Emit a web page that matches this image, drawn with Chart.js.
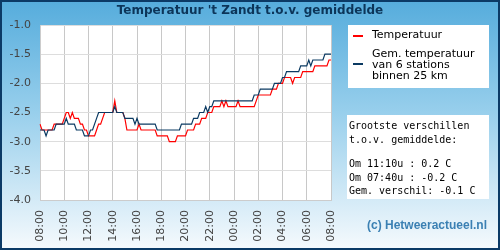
<!DOCTYPE html>
<html>
<head>
<meta charset="utf-8">
<script src="https://cdn.jsdelivr.net/npm/chart.js@4.4.0/dist/chart.umd.min.js"></script>
<style>
  html, body { margin: 0; padding: 0; background: #fff; }
  #wrap { width: 500px; height: 250px; position: relative; }
</style>
</head>
<body>
<div id="wrap"><canvas id="canvas" width="500" height="250"></canvas></div>
<script>
// tijdas: elke 10 minuten van 08:00 tot 08:00
const startUur = 8;
const aantalPunten = 145;
const yTicks = [-4.0, -3.5, -3.0, -2.5, -2.0, -1.5, -1.0];

// temperatuur 't Zandt t.o.v. gemiddelde
const temperatuur = [
  -2.7,-2.8,-2.8,-2.8,-2.8,-2.8,-2.8,-2.7,-2.7,-2.7,
  -2.7,-2.7,-2.6,-2.5,-2.5,-2.6,-2.5,-2.6,-2.6,-2.6,
  -2.7,-2.7,-2.8,-2.8,-2.9,-2.9,-2.9,-2.9,-2.8,-2.7,
  -2.7,-2.6,-2.5,-2.5,-2.5,-2.5,-2.5,-2.3,-2.5,-2.5,
  -2.5,-2.5,-2.6,-2.8,-2.8,-2.8,-2.8,-2.8,-2.8,-2.7,
  -2.8,-2.8,-2.8,-2.8,-2.8,-2.8,-2.8,-2.8,-2.9,-2.9,
  -2.9,-2.9,-2.9,-2.9,-3.0,-3.0,-3.0,-3.0,-2.9,-2.9,
  -2.9,-2.9,-2.9,-2.8,-2.8,-2.8,-2.8,-2.7,-2.7,-2.7,
  -2.6,-2.6,-2.6,-2.5,-2.5,-2.5,-2.4,-2.4,-2.4,-2.4,
  -2.3,-2.4,-2.3,-2.4,-2.4,-2.4,-2.4,-2.4,-2.3,-2.4,
  -2.4,-2.4,-2.4,-2.4,-2.4,-2.4,-2.4,-2.3,-2.2,-2.2,
  -2.2,-2.2,-2.2,-2.2,-2.2,-2.1,-2.1,-2.1,-2.0,-2.0,
  -2.0,-1.9,-1.9,-1.9,-1.9,-2.0,-1.9,-1.9,-1.9,-1.9,
  -1.8,-1.8,-1.8,-1.8,-1.8,-1.8,-1.7,-1.7,-1.7,-1.7,
  -1.7,-1.7,-1.7,-1.6,-1.6
];

// gemiddelde van 6 stations binnen 25 km
const gemiddelde = [
  -2.8,-2.8,-2.8,-2.9,-2.8,-2.8,-2.8,-2.8,-2.7,-2.7,
  -2.7,-2.7,-2.7,-2.6,-2.7,-2.7,-2.7,-2.7,-2.8,-2.8,
  -2.8,-2.8,-2.9,-2.9,-2.9,-2.8,-2.8,-2.7,-2.6,-2.5,
  -2.5,-2.5,-2.5,-2.5,-2.5,-2.5,-2.5,-2.4,-2.5,-2.5,
  -2.5,-2.5,-2.6,-2.6,-2.6,-2.6,-2.6,-2.7,-2.6,-2.7,
  -2.7,-2.7,-2.7,-2.7,-2.7,-2.7,-2.7,-2.7,-2.8,-2.8,
  -2.8,-2.8,-2.8,-2.8,-2.8,-2.8,-2.8,-2.8,-2.8,-2.8,
  -2.7,-2.7,-2.7,-2.7,-2.7,-2.7,-2.6,-2.6,-2.6,-2.5,
  -2.5,-2.5,-2.4,-2.5,-2.4,-2.4,-2.3,-2.3,-2.3,-2.3,
  -2.3,-2.3,-2.3,-2.3,-2.3,-2.3,-2.3,-2.3,-2.3,-2.3,
  -2.3,-2.3,-2.3,-2.3,-2.3,-2.3,-2.2,-2.2,-2.2,-2.1,
  -2.1,-2.1,-2.1,-2.1,-2.1,-2.1,-2.0,-2.0,-2.0,-2.0,
  -1.9,-1.9,-1.8,-1.8,-1.8,-1.8,-1.8,-1.8,-1.8,-1.7,
  -1.7,-1.7,-1.7,-1.6,-1.7,-1.6,-1.6,-1.6,-1.6,-1.6,
  -1.6,-1.5,-1.5,-1.5,-1.5
];

const legendaTekst = ["Temperatuur", "Gem. temperatuur", "van 6 stations", "binnen 25 km"];
const infoTekst = [
  "Grootste verschillen",
  "t.o.v. gemiddelde:",
  "",
  "Om 11:10u : 0.2 C",
  "Om 07:40u : -0.2 C",
  "Gem. verschil: -0.1 C"
];

function maakLabels(){
  let lijst = [];
  for (let i = 0; i < aantalPunten; i++){
    let minuten = startUur * 60 + i * 10;
    let u = Math.floor(minuten / 60) % 24;
    let m = minuten % 60;
    lijst.push(String(u).padStart(2, "0") + ":" + String(m).padStart(2, "0"));
  }
  return lijst;
}

const rood = "#ff0000";
const blauw = "#0b3a62";

// achtergrond, titel, legenda en infovak
const decor = {
  id: "decor",
  beforeDraw(chart){
    const ctx = chart.ctx;
    const a = chart.chartArea;
    ctx.save();
    let grad = ctx.createLinearGradient(0, 0, 0, 250);
    grad.addColorStop(0, "#55acdc");
    grad.addColorStop(0.45, "#98cfec");
    grad.addColorStop(1, "#f6fafd");
    ctx.fillStyle = grad;
    ctx.fillRect(0, 0, 500, 250);
    ctx.strokeStyle = "#0b3a66";
    ctx.lineWidth = 2;
    ctx.strokeRect(1, 1, 498, 248);
    ctx.fillStyle = "#ffffff";
    ctx.fillRect(a.left, a.top, a.right - a.left, a.bottom - a.top);
    ctx.restore();
  },
  afterDraw(chart){
    const ctx = chart.ctx;
    ctx.save();
    // titel
    ctx.fillStyle = "#0c3559";
    ctx.font = "bold 12px 'DejaVu Sans'";
    ctx.textAlign = "center";
    ctx.textBaseline = "middle";
    ctx.fillText("Temperatuur 't Zandt t.o.v. gemiddelde", 250, 11);

    // legenda
    ctx.fillStyle = "#ffffff";
    ctx.fillRect(348, 25, 141, 63);
    ctx.lineWidth = 2;
    ctx.strokeStyle = rood;
    ctx.beginPath(); ctx.moveTo(353, 36); ctx.lineTo(363, 36); ctx.stroke();
    ctx.strokeStyle = blauw;
    ctx.beginPath(); ctx.moveTo(353, 64); ctx.lineTo(363, 64); ctx.stroke();
    ctx.fillStyle = "#000000";
    ctx.font = "11px 'DejaVu Sans'";
    ctx.textAlign = "left";
    ctx.fillText(legendaTekst[0], 372, 35);
    ctx.fillText(legendaTekst[1], 372, 54);
    ctx.fillText(legendaTekst[2], 372, 65);
    ctx.fillText(legendaTekst[3], 372, 76);

    // infovak
    ctx.fillStyle = "#ffffff";
    ctx.fillRect(347, 115, 142, 84);
    ctx.fillStyle = "#000000";
    ctx.font = "10px 'DejaVu Sans Mono'";
    let ys = [126, 140, 152, 164, 178, 191];
    infoTekst.forEach((t, i) => ctx.fillText(t, 349, ys[i]));

    // copyright
    ctx.fillStyle = "#3b80b3";
    ctx.font = "bold 12px 'Liberation Sans'";
    ctx.textAlign = "right";
    ctx.fillText("(c) Hetweeractueel.nl", 487, 226);
    ctx.restore();
  }
};

function dibujar(){
  const ctx = document.getElementById("canvas").getContext("2d");
  const labels = maakLabels();
  new Chart(ctx, {
    type: "line",
    data: {
      labels: labels,
      datasets: [
        { label: "Gem. temperatuur", data: gemiddelde, borderColor: blauw, borderWidth: 1.2, pointRadius: 0, tension: 0, order: 1 },
        { label: "Temperatuur", data: temperatuur, borderColor: rood, borderWidth: 1.2, pointRadius: 0, tension: 0, order: 2 }
      ]
    },
    options: {
      responsive: false,
      animation: false,
      events: [],
      layout: { padding: { left: 0, top: 25, right: 169, bottom: 0 } },
      plugins: { legend: { display: false }, title: { display: false }, tooltip: { enabled: false } },
      scales: {
        x: {
          afterFit: s => { s.height = 50; },
          grid: { color: "#c8c8c8", drawTicks: false },
          border: { color: "#cccccc" },
          ticks: {
            autoSkip: false,
            minRotation: 90,
            maxRotation: 90,
            padding: 10,
            color: "#444444",
            font: { family: "DejaVu Sans", size: 11 },
            callback: function(val, i){ return i % 12 === 0 ? labels[i] : null; }
          }
        },
        y: {
          min: -4,
          max: -1,
          afterFit: s => { s.width = 40; },
          afterBuildTicks: s => { s.ticks = yTicks.map(v => ({ value: v })); },
          grid: { color: "#dddddd", drawTicks: false },
          border: { color: "#cccccc" },
          ticks: {
            padding: 9,
            color: "#444444",
            font: { family: "DejaVu Sans", size: 11 },
            callback: v => v.toFixed(1)
          }
        }
      }
    },
    plugins: [decor]
  });
}
dibujar();
</script>
</body>
</html>
